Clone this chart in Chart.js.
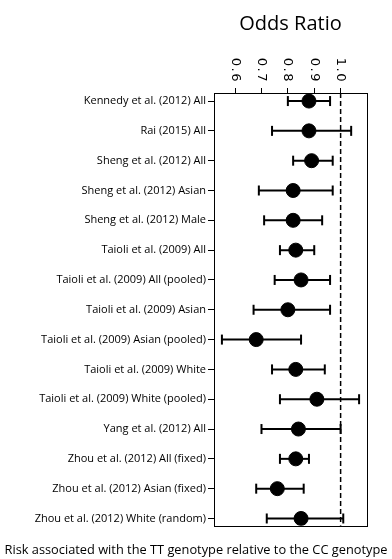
<!DOCTYPE html>
<html>
<head>
<meta charset="utf-8">
<script src="https://cdn.jsdelivr.net/npm/chart.js@4/dist/chart.umd.min.js"></script>
<style>
  html, body { margin: 0; padding: 0; background: #fff; }
  #wrap { width: 392px; height: 559px; }
</style>
</head>
<body>
<div id="wrap"><canvas id="c" width="392" height="559"></canvas></div>
<script>
// ---- data ----
const studies = [
  "Kennedy et al. (2012) All",
  "Rai (2015) All",
  "Sheng et al. (2012) All",
  "Sheng et al. (2012) Asian",
  "Sheng et al. (2012) Male",
  "Taioli et al. (2009) All",
  "Taioli et al. (2009) All (pooled)",
  "Taioli et al. (2009) Asian",
  "Taioli et al. (2009) Asian (pooled)",
  "Taioli et al. (2009) White",
  "Taioli et al. (2009) White (pooled)",
  "Yang et al. (2012) All",
  "Zhou et al. (2012) All (fixed)",
  "Zhou et al. (2012) Asian (fixed)",
  "Zhou et al. (2012) White (random)"
];
const oddsRatio = [0.88, 0.88, 0.89, 0.82, 0.82, 0.83, 0.85, 0.80, 0.68, 0.83, 0.91, 0.84, 0.83, 0.76, 0.85];
const ciLower   = [0.80, 0.74, 0.82, 0.69, 0.71, 0.77, 0.75, 0.67, 0.55, 0.74, 0.77, 0.70, 0.77, 0.68, 0.72];
const ciUpper   = [0.96, 1.04, 0.97, 0.97, 0.93, 0.90, 0.96, 0.96, 0.85, 0.94, 1.07, 1.00, 0.88, 0.86, 1.01];
const xTickValues = [0.6, 0.7, 0.8, 0.9, 1.0];
const xTickLabels = ["0.6", "0.7", "0.8", "0.9", "1.0"];
const nullValue = 1.0;
const axisTitle = "Odds Ratio";
const caption = "Risk associated with the TT genotype relative to the CC genotype";

// ---- datasets ----
const datasets = [];
datasets.push({
  label: "points",
  data: studies.map((s, i) => ({ x: oddsRatio[i], y: i })),
  pointRadius: 7,
  pointHoverRadius: 7,
  backgroundColor: "#000",
  borderColor: "#000",
  order: 0
});
studies.forEach((s, i) => {
  datasets.push({
    label: "ci" + i,
    data: [{ x: ciLower[i], y: i }, { x: ciUpper[i], y: i }],
    showLine: true,
    borderColor: "#000",
    borderWidth: 2,
    pointStyle: "line",
    pointRotation: 90,
    pointRadius: 5,
    pointBorderWidth: 2,
    pointBorderColor: "#000",
    order: 1,
    clip: false
  });
});
datasets.push({
  label: "null",
  data: [{ x: nullValue, y: -0.27 }, { x: nullValue, y: studies.length - 1 + 0.24 }],
  showLine: true,
  borderColor: "#000",
  borderWidth: 1.5,
  borderDash: [5, 3],
  pointRadius: 0,
  order: 2
});

// draw x tick labels rotated clockwise, and the plot frame
const decor = {
  id: "decor",
  afterDraw(chart) {
    const ctx = chart.ctx;
    const a = chart.chartArea;
    const xs = chart.scales.x;
    ctx.save();
    ctx.strokeStyle = "#000";
    ctx.lineWidth = 1;
    ctx.strokeRect(Math.round(a.left) + 0.5, Math.round(a.top) + 0.5,
                   Math.round(a.right - a.left), Math.round(a.bottom - a.top));
    ctx.fillStyle = "#000";
    ctx.font = "13px 'DejaVu Sans'";
    try { ctx.letterSpacing = "1.5px"; } catch (e) {}
    ctx.textAlign = "right";
    ctx.textBaseline = "middle";
    xTickValues.forEach((v, i) => {
      const px = xs.getPixelForValue(v);
      ctx.save();
      ctx.translate(px, a.top - 10);
      ctx.rotate(Math.PI / 2);
      ctx.fillText(xTickLabels[i], 0, 0);
      ctx.restore();
    });
    ctx.restore();
  }
};

new Chart(document.getElementById("c"), {
  type: "scatter",
  data: { datasets },
  plugins: [decor],
  options: {
    responsive: false,
    animation: false,
    events: [],
    layout: { padding: 0 },
    plugins: {
      legend: { display: false },
      tooltip: { enabled: false },
      title: {
        display: true,
        position: "bottom",
        text: caption,
        color: "#000",
        font: { family: "'Open Sans'", size: 12.8, weight: "normal" },
        padding: { top: 17, bottom: 1 }
      }
    },
    scales: {
      x: {
        type: "linear",
        position: "top",
        min: 0.52,
        max: 1.1,
        afterBuildTicks: (s) => { s.ticks = xTickValues.map(v => ({ value: v })); },
        afterFit: (s) => { s.height = 93; },
        ticks: { display: false },
        grid: { drawOnChartArea: false, drawTicks: true, tickLength: 5, color: "#000", tickWidth: 1 },
        border: { display: true, color: "#000", width: 1 },
        title: {
          display: true,
          text: axisTitle,
          color: "#000",
          font: { family: "'Open Sans'", size: 20, weight: "normal" },
          padding: { top: 12, bottom: 0 }
        }
      },
      y: {
        type: "linear",
        reverse: true,
        min: -0.27,
        max: studies.length - 1 + 0.24,
        afterBuildTicks: (s) => { s.ticks = studies.map((t, i) => ({ value: i })); },
        afterFit: (s) => { s.width = 214; },
        ticks: {
          color: "#000",
          padding: 2,
          font: { family: "'Open Sans'", size: 11 },
          callback: (v) => studies[v]
        },
        grid: { drawOnChartArea: false, drawTicks: true, tickLength: 6, color: "#000" },
        border: { display: true, color: "#000", width: 1 }
      },
      yRight: {
        type: "linear",
        position: "right",
        display: true,
        afterFit: (s) => { s.width = 25; },
        ticks: { display: false },
        grid: { display: false, drawOnChartArea: false, drawTicks: false },
        border: { display: false }
      }
    }
  }
});
</script>
</body>
</html>
